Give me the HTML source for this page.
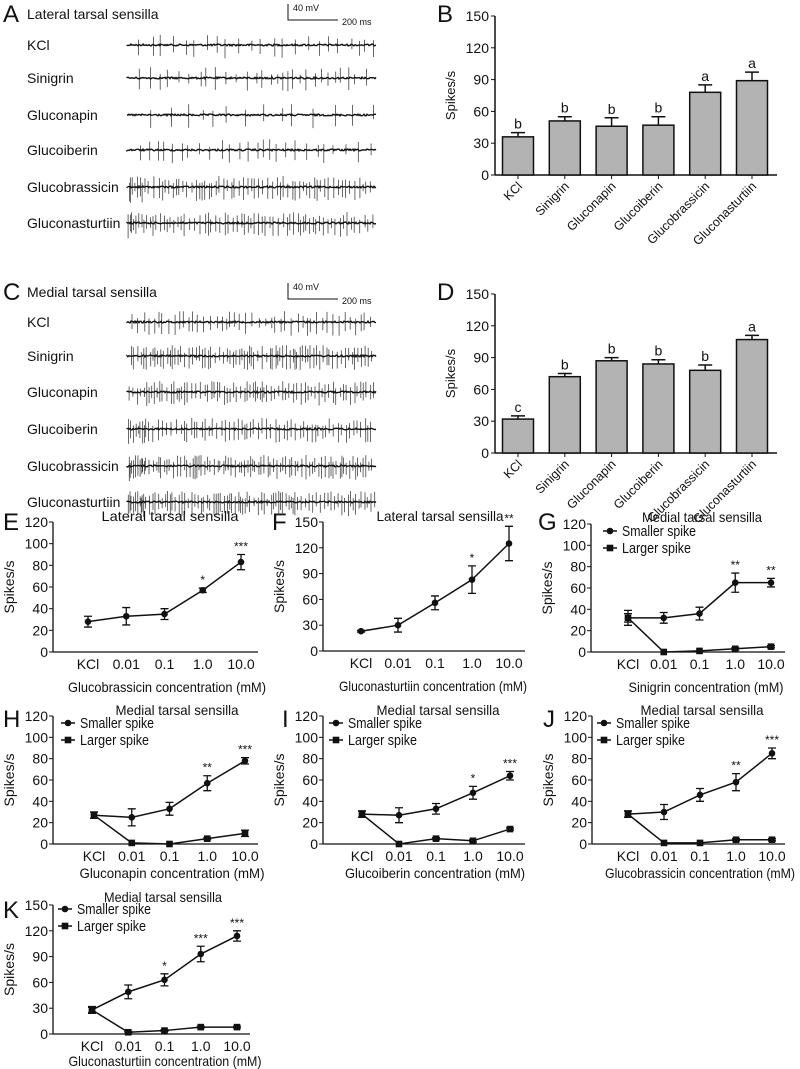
<!DOCTYPE html>
<html><head><meta charset="utf-8">
<style>
html,body{margin:0;padding:0;background:#fff;}
svg{display:block;font-family:"Liberation Sans",Arial,sans-serif;}
</style></head>
<body>
<svg id="fig" width="800" height="1069" viewBox="0 0 800 1069" xmlns="http://www.w3.org/2000/svg"></svg>
<script>
// ---------- DATA ----------
const traceNames = ['KCl','Sinigrin','Gluconapin','Glucoiberin','Glucobrassicin','Gluconasturtiin'];
const barCats = ['KCl','Sinigrin','Gluconapin','Glucoiberin','Glucobrassicin','Gluconasturtiin'];
const barB = [36,51,46,47,78,89];
const barBErr = [4,4,8,8,7,8];
const barBLetters = ['b','b','b','b','a','a'];
const barD = [32,72,87,84,78,107];
const barDErr = [3,3,3,4,5,4];
const barDLetters = ['c','b','b','b','b','a'];
const barTicks = [0,30,60,90,120,150];

const concCats = ['KCl','0.01','0.1','1.0','10.0'];
const ticks120 = [0,20,40,60,80,100,120];
const ticks150 = [0,30,60,90,120,150];
const eSmall = [28,33,35,57,83];   const eErr = [5,8,5,2,7];   const eStars = ['','','','*','***'];
const fSmall = [23,30,56,83,125];  const fErr = [1,8,8,16,20]; const fStars = ['','','','*','**'];
const gSmall = [32,32,36,65,65];   const gErr = [7,5,6,9,4];   const gLarge = [32,0,1,3,5];  const gLErr=[4,0,0,1,1]; const gStars=['','','','**','**'];
const hSmall = [27,25,33,57,78];   const hErr = [3,8,6,7,3];   const hLarge = [27,1,0,5,10]; const hLErr=[3,0,0,1,3]; const hStars=['','','','**','***'];
const iSmall = [28,27,33,48,64];   const iErr = [3,7,5,6,4];   const iLarge = [28,0,5,3,14]; const iLErr=[3,0,1,1,1]; const iStars=['','','','*','***'];
const jSmall = [28,30,46,58,85];   const jErr = [3,7,6,8,5];   const jLarge = [28,1,1,4,4];  const jLErr=[3,0,0,1,1]; const jStars=['','','','**','***'];
const kSmall = [28,49,63,93,114];  const kErr = [4,8,7,9,6];   const kLarge = [28,2,4,8,8];  const kLErr=[3,1,1,1,1]; const kStars=['','','*','***','***'];

// ---------- HELPERS ----------
const NS='http://www.w3.org/2000/svg';
const svg=document.getElementById('fig');
function mk(tag,attrs,parent){const e=document.createElementNS(NS,tag);for(const k in attrs)e.setAttribute(k,attrs[k]);(parent||svg).appendChild(e);return e;}
function txt(s,x,y,size,anchor,parent,extra){const t=mk('text',Object.assign({x:x,y:y,'font-size':size,'text-anchor':anchor||'start',fill:'#111'},extra||{}),parent);t.textContent=s;return t;}
function grp(name){const g=mk('g',{});return g;}

// ---------- PANEL LETTERS ----------
[['A',3,22],['B',437,22],['C',3,300],['D',437,300],['E',3,530],['F',272,530],['G',538,530],['H',3,727],['I',282,727],['J',543,727],['K',3,918]].forEach(p=>{
  const t=txt(p[0],p[1],p[2],24,'start');
  
  
});

// ---------- TRACES ----------
let seed=12345;
function rnd(){seed=(seed*1103515245+12345)%2147483648;return seed/2147483648;}
function drawTraces(panel,title,titleY,baselines,densities,burst,scaleY){
  const g=grp('trace-panel-'+panel);
  const tt=txt(title,27,titleY,14,'start',g);
  
  
  const sb=grp('scale-bar-'+panel);
  mk('path',{d:`M288 ${scaleY} V${scaleY+16} H338`,stroke:'#111','stroke-width':1,fill:'none'},sb);
  txt('40 mV',293,scaleY+7,9,'start',sb);
  txt('200 ms',342,scaleY+21,9,'start',sb);
  traceNames.forEach((n,i)=>{
    const y=baselines[i];
    const l=txt(n,27,y+5,14,'start',g);
    
    
    let spikes='';
    let x=127;
    while(x<375){
      const dens=densities[i]*(burst[i]&&x<145?1.8:1);
      x+= (0.5+rnd())/dens;
      if(x>375)break;
      const up=3+rnd()*8, dn=4+rnd()*10*(burst[i]&&x<145?1.2:1);
      spikes+=`M${x.toFixed(1)} ${(y-up).toFixed(1)} V${(y+dn).toFixed(1)} `;
    }
    const sp=mk('path',{d:spikes,stroke:'#444','stroke-width':0.8,fill:'none'},g);
    
    
    let d=`M127 ${y}`;
    for(let xx=127;xx<=376;xx+=1){d+=` L${xx} ${(y+(rnd()-0.5)*1.8).toFixed(1)}`;}
    const p=mk('path',{d:d,stroke:'#111','stroke-width':1.4,fill:'none'},g);
    
    
  });
}
drawTraces('a','Lateral tarsal sensilla',19,[45,78,115,150,187,223],[0.1,0.12,0.06,0.11,0.26,0.26],[0,0,0,0,1,1],4);
drawTraces('c','Medial tarsal sensilla',297,[322,356,392,429,466,502],[0.2,0.32,0.3,0.26,0.34,0.32],[0,0,0,1,1,1],283);

// ---------- BAR CHARTS ----------
function barChart(name,vals,errs,letters,y0,ytop){
  const g=grp(name);
  const ax=495, xEnd=777, ymax=150;
  const ys=v=>y0-(v/ymax)*(y0-ytop);
  const xs=i=>518+i*46.8;
  mk('line',{x1:ax,y1:ytop,x2:ax,y2:y0,stroke:'#111','stroke-width':1.5},g);
  mk('line',{x1:ax,y1:y0,x2:xEnd,y2:y0,stroke:'#111','stroke-width':1.5},g);
  barTicks.forEach(t=>{
    mk('line',{x1:ax-4,y1:ys(t),x2:ax,y2:ys(t),stroke:'#111','stroke-width':1},g);
    const tl=txt(String(t),ax-6,ys(t)+5,14,'end',g);
    
    
  });
  const yt=txt('Spikes/s',0,0,13,'middle',g,{transform:`translate(${ax-40},${(y0+ytop)/2}) rotate(-90)`});
  
  
  vals.forEach((v,i)=>{
    const cx=xs(i);
    const r=mk('rect',{x:cx-15.5,y:ys(v),width:31,height:y0-ys(v),fill:'#b3b3b3',stroke:'#111','stroke-width':1.5},g);
    
    
    const et=ys(v+errs[i]);
    mk('path',{d:`M${cx} ${ys(v)} V${et} M${cx-7} ${et} H${cx+7}`,stroke:'#111','stroke-width':1.5,fill:'none'},g);
    const lt=txt(letters[i],cx,et-4,14,'middle',g);
    
    
    mk('line',{x1:cx,y1:y0,x2:cx,y2:y0+4,stroke:'#111','stroke-width':1},g);
    const xl=txt(barCats[i],0,0,12.5,'end',g,{transform:`translate(${cx+5},${y0+12}) rotate(-45)`});
    
    
  });
}
barChart('bar-chart-b',barB,barBErr,barBLetters,175,16);
barChart('bar-chart-d',barD,barDErr,barDLetters,453,294);

// ---------- LINE CHARTS ----------
function lineChart(c){
  const g=grp(c.name);
  const ys=v=>c.y0-(v/c.ymax)*(c.y0-c.ytop);
  const xs=i=>c.x1+i*c.dx;
  mk('line',{x1:c.ax,y1:c.ytop,x2:c.ax,y2:c.y0,stroke:'#111','stroke-width':1.3},g);
  mk('line',{x1:c.ax,y1:c.y0,x2:c.xEnd,y2:c.y0,stroke:'#111','stroke-width':1.3},g);
  c.ticks.forEach(t=>{
    mk('line',{x1:c.ax-4,y1:ys(t),x2:c.ax,y2:ys(t),stroke:'#111','stroke-width':1},g);
    const tl=txt(String(t),c.ax-5,ys(t)+5,14,'end',g);
    
    
  });
  const yt=txt('Spikes/s',0,0,14,'middle',g,{transform:`translate(${c.ax-39},${(c.y0+c.ytop)/2}) rotate(-90)`});
  
  
  concCats.forEach((k,i)=>{
    const tl=txt(k,xs(i),c.y0+17,14,'middle',g);
    
    
  });
  const xt=txt(c.xlabel,c.xlx,c.y0+c.xlo,14,'middle',g,{textLength:c.xw,lengthAdjust:'spacingAndGlyphs'});
  
  
  const tt=txt(c.title,c.tx,c.ty,14,'middle',g,{textLength:c.tw,lengthAdjust:'spacingAndGlyphs'});
  
  
  function series(vals,errs,shape,nm){
    const sg=grp(nm);
    g.appendChild(sg);
    mk('polyline',{points:vals.map((v,i)=>xs(i)+','+ys(v)).join(' '),fill:'none',stroke:'#111','stroke-width':1.5},sg);
    vals.forEach((v,i)=>{
      const x=xs(i),y=ys(v),e=errs[i];
      if(e>0){const a=ys(v+e),b=ys(v-e);
        mk('path',{d:`M${x} ${a} V${b} M${x-4} ${a} H${x+4} M${x-4} ${b} H${x+4}`,stroke:'#111','stroke-width':1.3,fill:'none'},sg);}
      let m;
      if(shape==='c') m=mk('circle',{cx:x,cy:y,r:3.3,fill:'#111'},sg);
      else m=mk('rect',{x:x-3.3,y:y-3.3,width:6.6,height:6.6,fill:'#111'},sg);
      
      
    });
  }
  if(c.large) series(c.large,c.lerr,'s','series-larger-spike');
  series(c.small,c.err,'c','series-smaller-spike');
  c.stars.forEach((s,i)=>{
    if(!s)return;
    const st=txt(s,xs(i),ys(c.small[i]+c.err[i])-4,12,'middle',g);
    
    
  });
  if(c.large){
    const lg=grp('legend');
    g.appendChild(lg);
    mk('line',{x1:c.lx-7,y1:c.ly,x2:c.lx+7,y2:c.ly,stroke:'#111','stroke-width':1.5},lg);
    mk('circle',{cx:c.lx,cy:c.ly,r:3.3,fill:'#111'},lg);
    txt('Smaller spike',c.lx+12,c.ly+5,15,'start',lg,{textLength:74,lengthAdjust:'spacingAndGlyphs'});
    mk('line',{x1:c.lx-7,y1:c.ly+17,x2:c.lx+7,y2:c.ly+17,stroke:'#111','stroke-width':1.5},lg);
    mk('rect',{x:c.lx-3.3,y:c.ly+13.7,width:6.6,height:6.6,fill:'#111'},lg);
    txt('Larger spike',c.lx+12,c.ly+22,15,'start',lg,{textLength:69,lengthAdjust:'spacingAndGlyphs'});
  }
}
lineChart({name:'line-chart-e',ax:53,y0:652,ytop:522,ymax:120,ticks:ticks120,x1:88,dx:38.25,xEnd:258,small:eSmall,err:eErr,stars:eStars,title:'Lateral tarsal sensilla',tx:170,ty:521,tw:137,xlabel:'Glucobrassicin concentration (mM)',xlx:167,xw:198,xlo:40});
lineChart({name:'line-chart-f',ax:323,y0:651,ytop:522,ymax:150,ticks:ticks150,x1:361,dx:37,xEnd:525,small:fSmall,err:fErr,stars:fStars,title:'Lateral tarsal sensilla',tx:440,ty:521,tw:127,xlabel:'Gluconasturtiin concentration (mM)',xlx:433,xw:188,xlo:40});
lineChart({name:'line-chart-g',ax:591,y0:652,ytop:524,ymax:120,ticks:ticks120,x1:628,dx:35.75,xEnd:785,small:gSmall,err:gErr,large:gLarge,lerr:gLErr,stars:gStars,title:'Medial tarsal sensilla',tx:702,ty:522,tw:120,xlabel:'Sinigrin concentration (mM)',xlx:706,xw:155,xlo:40,lx:610,ly:531});
lineChart({name:'line-chart-h',ax:53,y0:844,ytop:716,ymax:120,ticks:ticks120,x1:94,dx:37.75,xEnd:258,small:hSmall,err:hErr,large:hLarge,lerr:hLErr,stars:hStars,title:'Medial tarsal sensilla',tx:177,ty:715,tw:123,xlabel:'Gluconapin concentration (mM)',xlx:172,xw:185,xlo:34,lx:68,ly:723});
lineChart({name:'line-chart-i',ax:323,y0:844,ytop:716,ymax:120,ticks:ticks120,x1:362,dx:37,xEnd:525,small:iSmall,err:iErr,large:iLarge,lerr:iLErr,stars:iStars,title:'Medial tarsal sensilla',tx:438,ty:715,tw:123,xlabel:'Glucoiberin concentration (mM)',xlx:435,xw:180,xlo:34,lx:336,ly:723});
lineChart({name:'line-chart-j',ax:592,y0:844,ytop:716,ymax:120,ticks:ticks120,x1:628,dx:36,xEnd:785,small:jSmall,err:jErr,large:jLarge,lerr:jLErr,stars:jStars,title:'Medial tarsal sensilla',tx:702,ty:715,tw:123,xlabel:'Glucobrassicin concentration (mM)',xlx:700,xw:190,xlo:34,lx:604,ly:723});
lineChart({name:'line-chart-k',ax:53,y0:1034,ytop:905,ymax:150,ticks:ticks150,x1:92,dx:36.25,xEnd:250,small:kSmall,err:kErr,large:kLarge,lerr:kLErr,stars:kStars,title:'Medial tarsal sensilla',tx:163,ty:902,tw:118,xlabel:'Gluconasturtiin concentration (mM)',xlx:165,xw:193,xlo:32,lx:65,ly:909});
</script>
</body></html>
